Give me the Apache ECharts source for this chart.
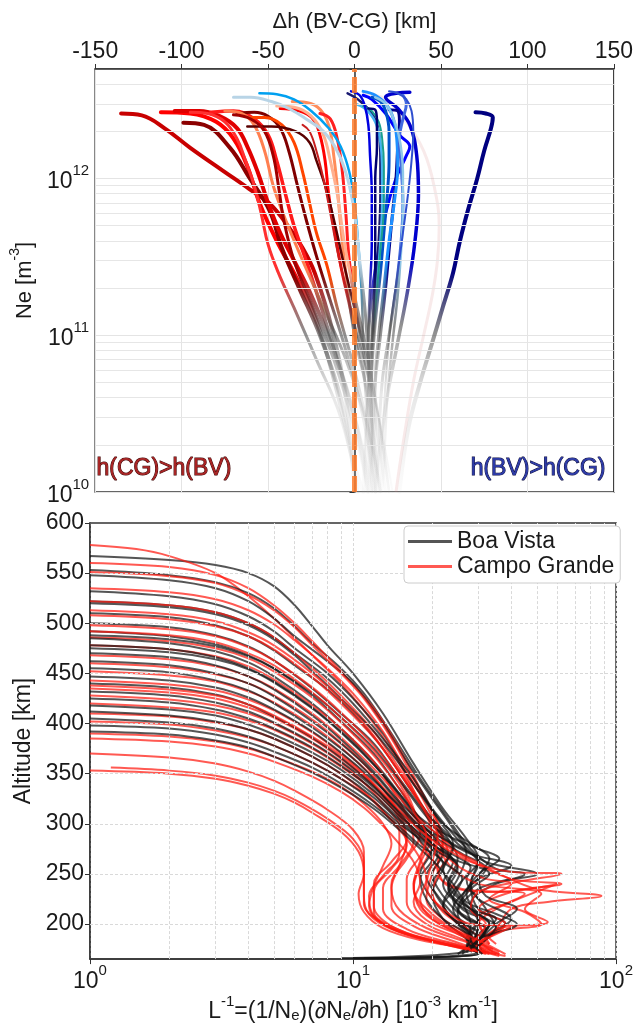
<!DOCTYPE html>
<html><head><meta charset="utf-8">
<script src="https://cdn.jsdelivr.net/npm/echarts@6/dist/echarts.min.js"></script>
<style>html,body{margin:0;padding:0;background:#fff}#c{width:636px;height:1024px}</style>
</head><body><div id="c"></div><script>
// ---------- Top panel: Δh (BV-CG) vs Ne ----------
const neMinorGrid = [2e10,3e10,4e10,5e10,6e10,7e10,8e10,9e10,2e11,3e11,4e11,5e11,6e11,7e11,8e11,9e11,2e12,3e12,4e12];
const topCurves = [
 [[-135,2.6e12],[-123,2.53e12],[-110,2.1e12],[-95,1.57e12],[-76,1.12e12],[-61,8.6e11],[-49,6.9e11],[-38,4.9e11],[-30,3.6e11],[-23,2.5e11],[-13,1.1e11],[-5,4e10],[0,1e10]],
 [[-112,2.65e12],[-95,2.6e12],[-80,2.3e12],[-70,1.8e12],[-62,1.2e12],[-55,7e11],[-45,4e11],[-35,2.5e11],[-25,1.5e11],[-15,7e10],[-5,2.5e10],[2,1e10]],
 [[-99,2.27e12],[-87,2.2e12],[-72,1.57e12],[-61,1.02e12],[-49,6.2e11],[-42,3.6e11],[-32,2e11],[-20,1e11],[-8,4e10],[0,1.5e10],[5,1e10]],
 [[-104,2.7e12],[-90,2.7e12],[-78,2.5e12],[-68,2.1e12],[-62,1.6e12],[-56,1.1e12],[-50,7e11],[-43,4.5e11],[-35,3e11],[-25,1.8e11],[-12,8e10],[0,3e10],[8,1e10]],
 [[-83,2.65e12],[-70,2.7e12],[-58,2.4e12],[-50,1.9e12],[-45,1.3e12],[-40,8e11],[-35,5e11],[-28,3e11],[-20,1.6e11],[-10,7e10],[2,2.5e10],[10,1e10]],
 [[-68,2.6e12],[-58,2.65e12],[-50,2.5e12],[-43,2.1e12],[-38,1.5e12],[-33,9e11],[-28,5.5e11],[-22,3.2e11],[-15,1.8e11],[-5,8e10],[5,3e10],[12,1e10]],
 [[-61,2.45e12],[-52,2.45e12],[-42,2.2e12],[-35,1.7e12],[-30,1.1e12],[-26,7e11],[-22,4.5e11],[-16,2.8e11],[-10,1.5e11],[0,6e10],[10,2e10],[15,1e10]],
 [[-75,2.7e12],[-65,2.6e12],[-58,2.2e12],[-52,1.5e12],[-47,9e11],[-40,5.5e11],[-30,3e11],[-18,1.5e11],[-5,7e10],[8,2.5e10],[15,1e10]],
 [[-36,3.1e12],[-25,3e12],[-18,2.6e12],[-14,2e12],[-12,1.4e12],[-10,9e11],[-8,5e11],[-5,2.5e11],[0,1e11],[8,4e10],[15,1e10]],
 [[-43,2.8e12],[-32,2.7e12],[-24,2.4e12],[-20,1.9e12],[-17,1.3e12],[-15,8e11],[-12,5e11],[-8,2.8e11],[-2,1.4e11],[6,5e10],[12,1e10]],
 [[-62,2.15e12],[-48,2.15e12],[-34,2.0e12],[-26,1.7e12],[-22,1.3e12],[-17,9e11],[-12,5.5e11],[-6,2.8e11],[2,1.2e11],[12,4e10],[20,1e10]],
 [[-20,2.6e12],[-14,2.4e12],[-10,1.8e12],[-7,1.1e12],[-5,6e11],[-3,3e11],[2,1.2e11],[10,4e10],[18,1e10]],
 [[-70,2.55e12],[-60,2.4e12],[-52,2e12],[-47,1.4e12],[-44,9e11],[-41,5.5e11],[-35,3e11],[-25,1.6e11],[-12,7e10],[0,2.5e10],[8,1e10]],
 [[-95,2.65e12],[-85,2.6e12],[-75,2.3e12],[-68,1.8e12],[-63,1.3e12],[-58,9e11],[-54,6e11],[-50,3.8e11],[-44,2.5e11],[-35,1.5e11],[-22,7e10],[-8,3e10],[2,1e10]],
 [[-30,2.2e12],[-26,2e12],[-22,1.5e12],[-18,1e12],[-14,6e11],[-10,3.5e11],[-4,1.8e11],[4,8e10],[14,3e10],[22,1e10]],
 [[-45,2.9e12],[-35,2.85e12],[-25,2.5e12],[-18,1.9e12],[-14,1.3e12],[-10,8e11],[-6,4e11],[0,1.8e11],[8,7e10],[16,2e10],[20,1e10]],
 [[70,2.65e12],[76,2.6e12],[80,2.45e12],[79,2.1e12],[75,1.5e12],[71,1e12],[66,6.5e11],[61,4e11],[57,2.5e11],[51,1.5e11],[45,9e10],[38,5e10],[31,2.5e10],[26,1e10]],
 [[32,3.55e12],[24,3.5e12],[18,3.3e12],[25,2.8e12],[32,2.2e12],[36,1.4e12],[37,8e11],[35,4e11],[31,2e11],[25,9e10],[18,3.5e10],[12,1e10]],
 [[5,3.4e12],[10,3.2e12],[18,2.6e12],[26,1.9e12],[32,1.6e12],[30,1.4e12],[24,1e12],[18,6e11],[14,3.5e11],[10,1.8e11],[8,8e10],[10,3e10],[14,1e10]],
 [[20,2.75e12],[25,2.7e12],[26,2.3e12],[25,1.6e12],[24,1e12],[22,6e11],[20,3.5e11],[18,2e11],[15,1e11],[12,5e10],[10,2e10],[8,1e10]],
 [[-4,3.5e12],[2,3.2e12],[10,2.6e12],[14,2e12],[15,1.3e12],[15,8e11],[14,4e11],[12,2e11],[10,1e11],[8,5e10],[6,2e10],[5,1e10]],
 [[5,3.6e12],[12,3.4e12],[20,2.8e12],[24,2e12],[25,1.2e12],[23,7e11],[20,4e11],[17,2e11],[14,1e11],[12,5e10],[12,2e10],[12,1e10]],
 [[-55,3.5e12],[-45,3.45e12],[-35,3.2e12],[-25,2.7e12],[-15,2.1e12],[-8,1.6e12],[-3,1.1e12],[0,7e11],[2,4e11],[4,2e11],[5,1e11],[6,5e10],[8,2e10],[10,1e10]],
 [[-70,3.3e12],[-60,3.3e12],[-48,3.1e12],[-38,2.8e12],[-28,2.4e12],[-18,2e12],[-10,1.5e12],[-4,1e12],[0,6e11],[3,3e11],[6,1.5e11],[8,7e10],[10,3e10],[12,1e10]],
 [[28,3.4e12],[30,3e12],[28,2.4e12],[26,1.8e12],[27,1.2e12],[28,7e11],[27,4e11],[24,2e11],[20,1e11],[16,5e10],[14,2e10],[13,1e10]],
 [[10,3.3e12],[15,3.1e12],[18,2.7e12],[20,2e12],[20,1.3e12],[19,8e11],[17,4.5e11],[15,2.5e11],[12,1.2e11],[10,6e10],[8,2e10],[7,1e10]],
 [[0,3e12],[6,2.8e12],[12,2.3e12],[15,1.7e12],[16,1.1e12],[16,7e11],[15,4e11],[13,2e11],[11,1e11],[10,5e10],[10,2e10],[10,1e10]],
 [[12,3.3e12],[18,3e12],[22,2.5e12],[26,1.8e12],[28,1.1e12],[28,6e11],[27,3.5e11],[25,1.8e11],[22,9e10],[19,4e10],[17,1.5e10],[16,1e10]],
 [[5,2.9e12],[10,2.7e12],[14,2.3e12],[16,1.8e12],[17,1.2e12],[17,7e11],[15,3.5e11],[12,1.5e11],[9,7e10],[7,3e10],[6,1e10]],
 [[-2,3.6e12],[3,3.4e12],[6,2.9e12],[8,2.2e12],[9,1.4e12],[10,8e11],[10,4e11],[9,2e11],[8,1e11],[8,5e10],[9,2e10],[10,1e10]],
 [[20,3.6e12],[25,3.5e12],[30,3.2e12],[33,2.7e12],[34,2e12],[33,1.3e12],[31,8e11],[28,4.5e11],[25,2.5e11],[21,1.2e11],[18,5e10],[16,2e10],[15,1e10]],
 [[8,2.8e12],[12,2.75e12],[13,2.3e12],[13,1.6e12],[12,1e12],[12,6e11],[12,3e11],[11,1.5e11],[10,7e10],[10,3e10],[11,1e10]]
];
const topColors = ['#c80000','#ff0000','#8b0000','#e00000','#ff1a1a','#800000','#ff4500','#ff7f50','#ff8c5a','#ff0000','#5a0000','#ff2020','#a00000','#ff3030','#c81e1e','#ffb090',
 '#000080','#0000cd','#0000ff','#00008b','#191970','#1e90ff','#00a0f0','#b8d4e6','#4169e1','#0050c8','#46b4f0','#8fc8e8','#1aa090','#0000e0','#2f4fcf','#000070'];
const topWidths = [4,4,4,4,3.5,3,3,3,3,3,2.5,3,3,3,2,3, 4,3.5,3,3,2.5,3,2.5,3,3,3,2.5,2.5,2,2.5,2,2.5];
const paleCurve = [[5,3.5e12],[18,3.2e12],[30,2.3e12],[40,1.5e12],[46,9e11],[49,5e11],[48,3e11],[45,1.8e11],[40,1e11],[34,5e10],[28,2e10],[24,1e10]];
const zeroLine = [[0,1e10],[0,5e12]];

// ---------- Bottom panel: L^-1 vs altitude ----------
const altLabels = [200,250,300,350,400,450,500,550,600];
const altGrid = [200,250,300,350,400,450,500,550];
const lMinorGrid = [2,3,4,5,6,7,8,9,20,30,40,50,60,70,80,90];
const bvProfiles = [
 [[1,567],[2,563],[3,558],[4,550],[5,537],[6,518],[7,497],[8,478],[10,450],[13,410],[17,360],[22,315],[27,285],[30,265],[28,240],[32,215],[35,195],[30,180],[28,172]],
 [[1,553],[2,548],[3,541],[4,530],[5,515],[6,497],[7,480],[9,455],[11,430],[14,390],[18,345],[23,305],[28,275],[35,255],[45,250],[30,235],[25,210],[28,190],[30,172]],
 [[1,548],[2,543],[3,535],[4,522],[5,505],[6,487],[8,462],[10,440],[13,400],[16,362],[20,325],[24,295],[27,270],[25,245],[22,220],[25,200],[30,180],[31,170]],
 [[1,532],[2,527],[3,519],[4,507],[5,492],[6,475],[8,450],[10,425],[13,390],[16,350],[20,315],[26,280],[32,262],[50,250],[35,240],[28,220],[30,200],[28,175]],
 [[1,522],[2,518],[3,511],[4,500],[5,486],[6,470],[8,445],[10,420],[13,385],[17,345],[21,305],[24,280],[22,255],[20,230],[22,205],[27,185],[30,170],[10,166]],
 [[1,510],[2,506],[3,498],[4,487],[5,473],[6,458],[8,434],[10,410],[13,375],[16,340],[20,305],[25,280],[30,260],[28,240],[30,215],[38,200],[30,185],[26,170]],
 [[1,500],[2,496],[3,488],[4,477],[5,463],[7,435],[9,410],[12,380],[15,345],[19,310],[23,285],[25,265],[23,240],[26,215],[33,200],[28,180],[25,170]],
 [[1,492],[2,487],[3,479],[4,468],[5,455],[7,428],[9,402],[12,370],[15,335],[18,305],[22,285],[28,270],[40,258],[30,245],[26,225],[28,200],[27,178]],
 [[1,485],[2,480],[3,472],[4,461],[5,447],[7,420],[9,395],[12,362],[15,330],[18,300],[20,275],[18,250],[20,225],[24,205],[30,190],[27,172],[9,166]],
 [[1,478],[2,474],[3,466],[4,455],[5,442],[7,416],[9,392],[11,370],[14,338],[17,308],[21,285],[26,270],[32,255],[28,238],[24,215],[27,195],[30,175]],
 [[1,470],[2,466],[3,458],[4,447],[5,434],[7,408],[9,384],[12,352],[15,322],[19,295],[22,270],[20,250],[22,228],[26,208],[32,195],[28,175]],
 [[1,462],[2,458],[3,450],[4,440],[5,427],[7,402],[9,380],[12,350],[15,320],[18,298],[24,280],[30,262],[27,245],[30,225],[40,205],[33,190],[29,172]],
 [[1,455],[2,451],[3,443],[4,433],[5,420],[7,396],[9,375],[11,355],[14,325],[17,300],[20,280],[24,262],[22,240],[25,220],[30,205],[27,185],[30,170],[11,166]],
 [[1,447],[2,443],[3,436],[4,426],[5,414],[7,392],[9,371],[12,343],[15,318],[18,296],[22,275],[25,255],[23,235],[28,215],[35,205],[30,190],[26,172]],
 [[1,440],[2,436],[3,429],[4,419],[5,407],[7,386],[9,366],[12,338],[15,312],[19,290],[23,272],[28,256],[25,238],[22,218],[26,198],[30,180]],
 [[1,432],[2,428],[3,421],[4,412],[5,401],[7,381],[9,362],[12,336],[15,310],[18,288],[21,268],[19,248],[21,228],[24,210],[28,193],[27,175]],
 [[1,425],[2,421],[3,414],[4,405],[5,395],[7,376],[9,358],[12,333],[15,308],[19,285],[24,265],[33,250],[28,235],[25,215],[30,198],[28,180]],
 [[1,412],[2,408],[3,402],[4,394],[5,385],[7,367],[9,350],[12,326],[15,303],[18,283],[20,265],[18,245],[19,225],[22,205],[27,190],[29,172]],
 [[1,405],[2,401],[3,395],[4,387],[5,378],[7,361],[9,345],[12,322],[15,300],[19,280],[22,262],[26,245],[24,225],[27,205],[32,195],[28,178]],
 [[1,398],[2,395],[3,389],[4,381],[5,372],[7,356],[9,340],[12,318],[15,297],[18,278],[22,260],[20,240],[22,218],[25,200],[30,185],[29,170],[10,165.5]],
 [[1,392],[2,389],[3,383],[4,376],[5,367],[7,351],[9,336],[12,315],[15,294],[18,275],[21,258],[24,240],[27,222],[35,210],[42,200],[30,185],[27,172]],
 [[1,488],[2,484],[3,477],[4,467],[5,455],[7,430],[9,406],[12,375],[15,343],[18,315],[21,293],[24,275],[22,255],[24,235],[28,215],[33,200],[29,180]],
 [[1,475],[2,471],[3,464],[4,454],[5,441],[7,415],[9,391],[12,359],[15,330],[18,306],[23,288],[30,275],[36,265],[30,250],[27,230],[30,210],[35,198],[30,178]],
 [[1,520],[2,516],[3,509],[4,498],[5,484],[6,468],[7,452],[8,438],[10,413],[12,392],[15,360],[18,330],[22,300],[28,280],[33,265],[30,245],[32,228],[42,215],[35,200],[28,175]],
 [[1,418],[2,414],[3,408],[4,399],[5,389],[7,371],[9,354],[12,329],[15,305],[18,287],[21,272],[25,258],[23,240],[26,222],[30,205],[28,185],[31,170]]
];
const cgProfiles = [
 [[1,578],[1.5,574],[2,567],[3,550],[4,527],[5,505],[6,485],[7,468],[9,440],[12,400],[15,360],[18,320],[20,290],[18,260],[17,235],[20,210],[26,190],[32,172]],
 [[1,560],[2,556],[3,548],[4,535],[5,518],[6,500],[7,482],[9,452],[12,415],[15,375],[18,335],[21,300],[22,275],[20,250],[19,225],[22,205],[28,188],[34,172]],
 [[1,551],[2,547],[3,540],[4,528],[5,513],[6,496],[7,478],[9,450],[11,425],[14,385],[17,345],[20,312],[22,285],[21,260],[23,238],[35,232],[60,240],[40,222],[30,205],[33,180]],
 [[1,535],[2,531],[3,524],[4,513],[5,499],[6,483],[8,455],[10,430],[13,392],[16,352],[19,318],[21,290],[19,265],[17,240],[18,215],[22,198],[30,180],[36,170]],
 [[1,522],[2,518],[3,511],[4,500],[5,486],[7,455],[9,428],[12,392],[15,355],[18,322],[20,295],[18,268],[16,245],[16,222],[19,200],[26,185],[33,172]],
 [[1,508],[2,504],[3,497],[4,487],[5,474],[7,446],[9,420],[12,386],[15,352],[18,320],[21,295],[23,270],[21,250],[26,235],[45,230],[35,215],[30,200],[35,180]],
 [[1,498],[2,494],[3,487],[4,476],[5,463],[7,436],[9,411],[12,378],[15,345],[17,315],[18,290],[16,265],[14,240],[14,218],[17,198],[24,183],[32,172]],
 [[1,486],[2,482],[3,475],[4,465],[5,452],[7,426],[9,401],[12,368],[15,335],[18,305],[22,285],[26,268],[40,245],[62,240],[40,232],[30,215],[38,200],[30,182]],
 [[1,478],[2,474],[3,467],[4,457],[5,444],[7,418],[9,395],[12,362],[14,335],[16,308],[17,283],[15,258],[13,236],[13,215],[16,195],[23,182],[35,170]],
 [[1,468],[2,464],[3,457],[4,447],[5,435],[7,410],[9,386],[12,355],[15,326],[18,300],[22,280],[28,265],[36,250],[50,235],[88,228],[55,222],[40,215],[35,195],[30,178]],
 [[1,460],[2,456],[3,449],[4,440],[5,428],[7,404],[9,381],[11,360],[13,335],[15,310],[16,285],[14,262],[12,240],[12,218],[14,198],[20,183],[30,172]],
 [[1,452],[2,448],[3,442],[4,432],[5,421],[7,398],[9,376],[12,346],[15,318],[18,295],[21,275],[24,255],[30,240],[52,230],[45,215],[55,202],[35,195],[30,178]],
 [[1,443],[2,439],[3,433],[4,424],[5,413],[7,391],[9,370],[11,350],[13,328],[15,305],[16,282],[15,258],[14,236],[15,214],[19,196],[27,182],[36,170]],
 [[1,435],[2,431],[3,425],[4,416],[5,406],[7,385],[9,365],[12,338],[15,312],[17,292],[19,272],[21,252],[20,232],[22,212],[27,196],[33,180]],
 [[1,428],[2,424],[3,418],[4,410],[5,400],[7,380],[9,361],[11,341],[13,320],[15,300],[16,278],[14,255],[12,232],[12,212],[15,194],[22,181],[32,172]],
 [[1,420],[2,416],[3,411],[4,403],[5,394],[7,375],[9,357],[12,333],[15,308],[18,288],[22,270],[26,255],[32,245],[40,240],[33,225],[45,212],[52,200],[35,192],[30,176]],
 [[1,410],[2,407],[3,401],[4,394],[5,385],[7,367],[9,350],[11,332],[13,312],[15,292],[15,270],[13,248],[11.5,228],[12,208],[15,192],[22,180],[33,170]],
 [[1,402],[2,399],[3,393],[4,386],[5,378],[7,361],[9,345],[12,323],[14,303],[16,285],[18,265],[19,245],[18,225],[20,205],[26,190],[36,172]],
 [[1,390],[2,387],[3,382],[4,375],[5,367],[7,352],[9,337],[11,320],[13,300],[14,280],[13,258],[12,238],[11.5,218],[13,200],[18,186],[28,175],[38,168]],
 [[1,385],[2,382],[3,377],[4,370],[5,362],[7,347],[9,332],[11,316],[13,298],[15,280],[17,262],[18,242],[17,222],[19,204],[25,190],[34,175]],
 [[1,370],[2,366],[3,360],[4,352],[5,343],[6,333],[8,314],[10,294],[11,272],[11,250],[10.5,230],[11,212],[13,196],[18,184],[28,175],[36,168]],
 [[1.2,356],[2,353],[3,348],[4,341],[5,333],[6,324],[8,305],[10,285],[11,262],[11,240],[11,220],[12.5,203],[16,190],[24,180],[32,170]],
 [[1,353],[2,350],[3,345],[4,338],[5,330],[6,321],[7,311],[9,292],[10.5,272],[11,250],[11,228],[11.5,210],[14,195],[20,183],[30,173]],
 [[1,438],[2,434],[3,428],[4,419],[5,408],[7,387],[9,368],[12,340],[15,314],[18,293],[22,277],[28,262],[40,252],[62,250],[42,242],[30,232],[28,215],[32,200],[28,180]],
 [[1,492],[2,488],[3,481],[4,470],[5,458],[7,431],[9,406],[12,373],[15,340],[17,312],[19,288],[18,263],[17,240],[18,218],[22,200],[30,184],[38,170]],
 [[1,513],[2,509],[3,502],[4,491],[5,478],[7,450],[9,424],[11,400],[13,375],[16,340],[19,310],[21,287],[20,262],[19,238],[22,215],[28,200],[40,198],[30,182]]
];
const legendNames = ['Boa Vista','Campo Grande'];
const legendColors = ['rgba(20,20,20,0.72)','rgba(255,25,15,0.72)'];

// ---------- build ----------
const FONT = '"Liberation Sans", Arial, sans-serif';
const TXT = '#1a1a1a';
function fade(c){
  return new echarts.graphic.LinearGradient(0,1,0,0,[
    {offset:0,color:'rgba(170,170,170,0.04)'},
    {offset:0.25,color:'rgba(140,140,140,0.2)'},
    {offset:0.42,color:'rgba(70,70,70,0.6)'},
    {offset:0.58,color:c},{offset:1,color:c}]);
}
const powRich = {
  b:{fontSize:23,fontFamily:FONT,color:TXT,lineHeight:30,verticalAlign:'bottom'},
  s:{fontSize:15,fontFamily:FONT,color:TXT,lineHeight:16,verticalAlign:'top'}
};
function powFmt(v){
  const l = Math.log10(v), r = Math.round(l);
  if (Math.abs(l-r) > 1e-6) return '';
  return '{b|10}{s|'+r+'}';
}
function mkRich(fs){
  return {
    n:{fontSize:fs,fontFamily:FONT,color:TXT,lineHeight:fs+6,verticalAlign:'bottom'},
    sup:{fontSize:Math.round(fs*0.64),fontFamily:FONT,color:TXT,lineHeight:14,verticalAlign:'top'},
    sub:{fontSize:Math.round(fs*0.64),fontFamily:FONT,color:TXT,lineHeight:12,verticalAlign:'bottom'}
  };
}
const series = [];
series.push({type:'line',xAxisIndex:0,yAxisIndex:0,data:[[0,1e11]],symbol:'none',lineStyle:{opacity:0},silent:true,z:1,
  markLine:{silent:true,symbol:['none','none'],label:{show:false},animation:false,
    lineStyle:{color:'#e6e6e6',width:1,type:'solid'},data:neMinorGrid.map(v=>({yAxis:v}))}});
series.push({type:'line',xAxisIndex:0,yAxisIndex:0,data:paleCurve,symbol:'none',smooth:0.4,silent:true,z:2,
  lineStyle:{width:3,color:'rgba(215,140,140,0.18)'}});
topCurves.forEach((d,i)=>{
  series.push({type:'line',xAxisIndex:0,yAxisIndex:0,data:d,symbol:'none',smooth:0.4,silent:true,z:3,
    lineStyle:{width:topWidths[i],color:fade(topColors[i]),cap:'round'}});
});
series.push({type:'line',xAxisIndex:0,yAxisIndex:0,data:zeroLine,symbol:'none',silent:true,z:5,
  lineStyle:{width:5,color:'rgba(255,125,45,0.85)',type:[16,5]}});
series.push({type:'line',xAxisIndex:1,yAxisIndex:1,data:[[2,300]],symbol:'none',lineStyle:{opacity:0},silent:true,z:1,
  markLine:{silent:true,symbol:['none','none'],label:{show:false},animation:false,
    lineStyle:{color:'#d9d9d9',width:1,type:[3,2]},
    data:lMinorGrid.map(v=>({xAxis:v})).concat(altGrid.map(v=>({yAxis:v})))}});
const nMax = Math.max(bvProfiles.length, cgProfiles.length);
for (let i=0;i<nMax;i++){
  if (bvProfiles[i]) series.push({name:legendNames[0],type:'line',xAxisIndex:1,yAxisIndex:1,data:bvProfiles[i],symbol:'none',smooth:0.35,silent:true,z:3,
    itemStyle:{color:legendColors[0]},lineStyle:{width:2,color:legendColors[0]}});
  if (cgProfiles[i]) series.push({name:legendNames[1],type:'line',xAxisIndex:1,yAxisIndex:1,data:cgProfiles[i],symbol:'none',smooth:0.35,silent:true,z:3,
    itemStyle:{color:legendColors[1]},lineStyle:{width:2,color:legendColors[1]}});
}
const axisLineStyle = {lineStyle:{color:'#333',width:1.5}};
const option = {
  animation:false,
  backgroundColor:'#fff',
  grid:[
    {left:90,right:19,top:69,height:423,show:true,borderColor:'#333',borderWidth:1.5,backgroundColor:'transparent'},
    {left:90,right:19,top:523,height:445,show:true,borderColor:'#333',borderWidth:1.5,backgroundColor:'transparent'}
  ],
  xAxis:[
    {type:'value',gridIndex:0,position:'top',min:-150,max:150,interval:50,
     name:'Δh (BV-CG) [km]',nameLocation:'middle',nameGap:36,
     nameTextStyle:{fontSize:22,fontFamily:FONT,color:TXT},
     axisLine:axisLineStyle,axisTick:{length:5,lineStyle:{color:'#333'}},
     axisLabel:{fontSize:23,fontFamily:FONT,color:TXT,margin:6},
     splitLine:{show:true,lineStyle:{color:'#e4e4e4',width:1}}},
    {type:'log',gridIndex:1,logBase:10,min:1,max:100,position:'bottom',
     name:'{n|L}{sup|-1}{n|=(1/N}{sub|e}{n|)(∂N}{sub|e}{n|/∂h) [10}{sup|-3}{n| km}{sup|-1}{n|]}',
     nameLocation:'middle',nameGap:30,nameTextStyle:{rich:mkRich(23)},
     axisLine:axisLineStyle,axisTick:{length:5,lineStyle:{color:'#333'}},
     axisLabel:{formatter:powFmt,rich:powRich,margin:4},
     splitLine:{show:true,lineStyle:{color:'#d9d9d9',width:1,type:[3,2]}}}
  ],
  yAxis:[
    {type:'log',gridIndex:0,logBase:10,min:1e10,max:5e12,
     name:'{n|Ne [m}{sup|-3}{n|]}',nameLocation:'middle',nameGap:36,nameTextStyle:{rich:mkRich(22)},
     axisLine:axisLineStyle,axisTick:{length:5,lineStyle:{color:'#333'}},
     axisLabel:{formatter:powFmt,rich:powRich,margin:6},
     splitLine:{show:true,lineStyle:{color:'#e4e4e4',width:1}}},
    {type:'value',gridIndex:1,min:165,max:600,
     name:'Altitude [km]',nameLocation:'middle',nameGap:35,
     nameTextStyle:{fontSize:23,fontFamily:FONT,color:TXT},
     axisLine:axisLineStyle,
     axisTick:{length:5,lineStyle:{color:'#333'},customValues:altLabels},
     axisLabel:{fontSize:23,fontFamily:FONT,color:TXT,margin:6,customValues:altLabels},
     splitLine:{show:false}}
  ],
  legend:{data:legendNames.map((n,i)=>({name:n,icon:'rect',itemStyle:{color:legendColors[i],borderWidth:0}})),
    orient:'vertical',left:404,top:526,z:20,
    itemWidth:44,itemHeight:3,itemGap:2,
    itemStyle:{borderWidth:0},
    padding:[4,6,5,4],borderColor:'#cccccc',borderWidth:1,borderRadius:4,backgroundColor:'#ffffff',
    textStyle:{fontSize:23,fontFamily:FONT,color:TXT,lineHeight:23}},
  graphic:[
    {type:'text',left:96,top:457,z:10,style:{text:'h(CG)>h(BV)',font:'23px '+FONT,fill:'#a82323',stroke:'#3a0000',lineWidth:1}},
    {type:'text',right:30,top:457,z:10,style:{text:'h(BV)>h(CG)',font:'23px '+FONT,fill:'#2c3aa8',stroke:'#0a0a3a',lineWidth:1}}
  ],
  series:series
};
const chart = echarts.init(document.getElementById('c'),null,{renderer:'canvas'});
chart.setOption(option);
</script></body></html>
